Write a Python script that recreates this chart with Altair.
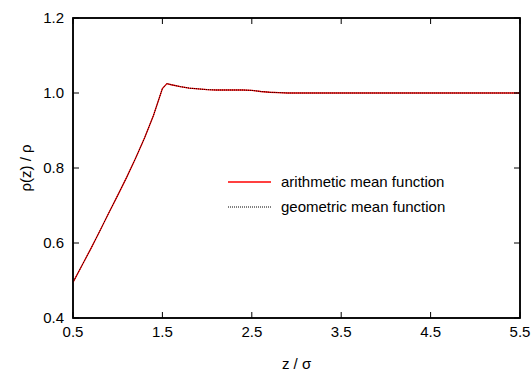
import altair as alt
import pandas as pd

z = [0.5, 0.6, 0.7, 0.8, 0.9, 1.0, 1.1, 1.2, 1.3, 1.4, 1.5, 1.55, 1.6, 1.7, 1.8, 1.9,
     2.0, 2.1, 2.2, 2.3, 2.4, 2.5, 2.6, 2.7, 2.8, 2.9, 3.0, 3.5, 4.0, 4.5, 5.0, 5.5]
rho_arith = [0.495, 0.540, 0.585, 0.632, 0.680, 0.727, 0.775, 0.826, 0.880, 0.940, 1.012,
             1.025, 1.022, 1.017, 1.013, 1.011, 1.009, 1.008, 1.008, 1.008, 1.008, 1.007,
             1.004, 1.002, 1.001, 1.000, 1.000, 1.000, 1.000, 1.000, 1.000, 1.000]
rho_geom = [0.495, 0.540, 0.585, 0.632, 0.680, 0.727, 0.775, 0.826, 0.880, 0.940, 1.012,
            1.025, 1.022, 1.017, 1.013, 1.011, 1.009, 1.008, 1.008, 1.008, 1.008, 1.007,
            1.004, 1.002, 1.001, 1.000, 1.000, 1.000, 1.000, 1.000, 1.000, 1.000]
series = ["arithmetic mean function", "geometric mean function"]
x_ticks = [0.5, 1.5, 2.5, 3.5, 4.5, 5.5]
y_ticks = [0.4, 0.6, 0.8, 1.0, 1.2]
x_title = "z / σ"
y_title = "ρ(z) / ρ"

df_a = pd.DataFrame({"z": z, "rho": rho_arith})
df_g = pd.DataFrame({"z": z, "rho": rho_geom})
df_xt = pd.DataFrame({"t": x_ticks})
df_yt = pd.DataFrame({"t": y_ticks})
df_one = pd.DataFrame({"k": [0]})

FONT = "Liberation Sans"
FS = 15
W, H = 447, 300
xscale = alt.Scale(domain=[0.5, 5.5], nice=False, zero=False)
yscale = alt.Scale(domain=[0.4, 1.2], nice=False, zero=False)

arith = alt.Chart(df_a).mark_line(color="#ff0000", strokeWidth=1.3, clip=True).encode(
    x=alt.X("z:Q", scale=xscale, axis=None),
    y=alt.Y("rho:Q", scale=yscale, axis=None),
)
geom = alt.Chart(df_g).mark_line(color="#000000", strokeWidth=1, strokeDash=[1, 1],
                                 clip=True).encode(
    x=alt.X("z:Q", scale=xscale, axis=None),
    y=alt.Y("rho:Q", scale=yscale, axis=None),
)

frame = alt.Chart(df_one).mark_rect(fillOpacity=0, stroke="#000", strokeWidth=1.5).encode(
    x=alt.datum(0.5, scale=xscale, axis=None), x2=alt.datum(5.5),
    y=alt.datum(0.4, scale=yscale, axis=None), y2=alt.datum(1.2),
)

tick_style = dict(color="#000", strokeWidth=1)
xt_bottom = alt.Chart(df_xt).mark_rule(**tick_style).encode(
    x=alt.X("t:Q", scale=xscale, axis=None), y=alt.value(H), y2=alt.value(H - 6))
xt_top = alt.Chart(df_xt).mark_rule(**tick_style).encode(
    x=alt.X("t:Q", scale=xscale, axis=None), y=alt.value(0), y2=alt.value(6))
yt_left = alt.Chart(df_yt).mark_rule(**tick_style).encode(
    y=alt.Y("t:Q", scale=yscale, axis=None), x=alt.value(0), x2=alt.value(6))
yt_right = alt.Chart(df_yt).mark_rule(**tick_style).encode(
    y=alt.Y("t:Q", scale=yscale, axis=None), x=alt.value(W), x2=alt.value(W - 6))

# tick labels
text_style = dict(font=FONT, fontSize=FS, color="#000")
xl = alt.Chart(df_xt).mark_text(align="center", baseline="top", **text_style).encode(
    x=alt.X("t:Q", scale=xscale, axis=None), y=alt.value(H + 7),
    text=alt.Text("t:Q", format=".1f"))
yl = alt.Chart(df_yt).mark_text(align="right", baseline="middle", **text_style).encode(
    y=alt.Y("t:Q", scale=yscale, axis=None), x=alt.value(-9),
    text=alt.Text("t:Q", format=".1f"))

# axis titles
xtitle = alt.Chart(pd.DataFrame({"label": [x_title]})).mark_text(
    align="center", baseline="middle", **text_style).encode(
    x=alt.value(W / 2), y=alt.value(H + 46), text="label:N")
ytitle = alt.Chart(pd.DataFrame({"label": [y_title]})).mark_text(
    align="center", baseline="middle", angle=270, **text_style).encode(
    x=alt.value(-47), y=alt.value(H / 2), text="label:N")

# legend drawn inside the plot
leg_a_line = alt.Chart(df_one).mark_rule(color="#ff0000", strokeWidth=1.3).encode(
    x=alt.value(155), x2=alt.value(198), y=alt.value(164))
leg_g_line = alt.Chart(df_one).mark_rule(color="#000", strokeWidth=1, strokeDash=[1, 1]).encode(
    x=alt.value(155), x2=alt.value(198), y=alt.value(189))
leg_a_text = alt.Chart(pd.DataFrame({"label": [series[0]]})).mark_text(
    align="left", baseline="middle", **text_style).encode(
    x=alt.value(208), y=alt.value(164), text="label:N")
leg_g_text = alt.Chart(pd.DataFrame({"label": [series[1]]})).mark_text(
    align="left", baseline="middle", **text_style).encode(
    x=alt.value(208), y=alt.value(189), text="label:N")

chart = alt.layer(
    arith, geom, xl, yl, xtitle, ytitle,
    leg_a_line, leg_g_line, leg_a_text, leg_g_text,
    frame, xt_bottom, xt_top, yt_left, yt_right,
).properties(
    width=W, height=H,
    background="white",
    autosize=alt.AutoSizeParams(type="none"),
    padding={"left": 73, "top": 18, "right": 12, "bottom": 57},
).configure_view(stroke="#000", strokeWidth=1.5)

chart.save("out.html", embed_options={"renderer": "svg", "actions": False})
